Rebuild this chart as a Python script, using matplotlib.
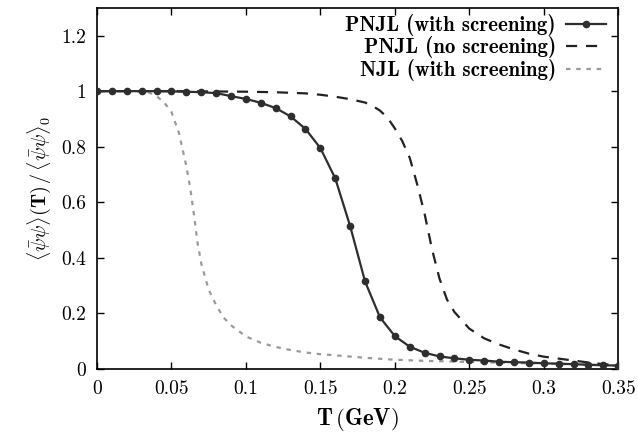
import numpy as np
import matplotlib
matplotlib.use("Agg")
import matplotlib.pyplot as plt

plt.rcParams['font.family'] = 'serif'
plt.rcParams['font.serif'] = ['cmr10']
plt.rcParams['mathtext.fontset'] = 'cm'
plt.rcParams['axes.unicode_minus'] = False

# PNJL con screening (puntos cada 0.01)
t_pnjl = np.round(np.arange(0, 0.351, 0.01), 3)
y_pnjl = [1.0, 1.0, 1.0, 1.0, 1.0, 0.999, 0.998, 0.996, 0.993, 0.982,
          0.972, 0.958, 0.939, 0.909, 0.864, 0.795, 0.686, 0.514, 0.315, 0.186,
          0.118, 0.080, 0.058, 0.045, 0.038, 0.033, 0.030, 0.026, 0.024, 0.023,
          0.020, 0.019, 0.017, 0.015, 0.013, 0.012]

# PNJL sin screening
t_nos = [0.0, 0.05, 0.10, 0.12, 0.14, 0.15, 0.16, 0.17, 0.18, 0.185, 0.19, 0.195,
         0.20, 0.205, 0.21, 0.215, 0.22, 0.225, 0.23, 0.235, 0.24, 0.25,
         0.26, 0.27, 0.28, 0.29, 0.30, 0.31, 0.32, 0.33, 0.34, 0.35]
y_nos = [1.0, 1.0, 0.998, 0.996, 0.992, 0.987, 0.98, 0.971, 0.959, 0.947, 0.93, 0.905,
         0.866, 0.82, 0.76, 0.665, 0.558, 0.43, 0.325, 0.25, 0.205, 0.145,
         0.11, 0.088, 0.07, 0.055, 0.044, 0.037, 0.03, 0.023, 0.017, 0.014]

# NJL con screening
t_njl = [0.0, 0.02, 0.03, 0.035, 0.04, 0.045, 0.05, 0.055, 0.06, 0.0625,
         0.065, 0.0675, 0.07, 0.075, 0.08, 0.085, 0.09, 0.10, 0.11, 0.12,
         0.13, 0.14, 0.15, 0.16, 0.18, 0.20, 0.22, 0.25, 0.28, 0.30, 0.33, 0.35]
y_njl = [1.0, 1.0, 0.999, 0.995, 0.982, 0.96, 0.925, 0.85, 0.73, 0.655,
         0.56, 0.455, 0.38, 0.285, 0.23, 0.185, 0.157, 0.117, 0.094, 0.079,
         0.068, 0.059, 0.053, 0.049, 0.04, 0.033, 0.029, 0.025, 0.021, 0.019, 0.015, 0.012]

xticks = [0, 0.05, 0.1, 0.15, 0.2, 0.25, 0.3, 0.35]
xticklabels = ['0', '0.05', '0.1', '0.15', '0.2', '0.25', '0.3', '0.35']
yticks = [0, 0.2, 0.4, 0.6, 0.8, 1.0, 1.2]
yticklabels = ['0', '0.2', '0.4', '0.6', '0.8', '1', '1.2']

fig = plt.figure(figsize=(6.38, 4.34), dpi=100)
ax = fig.add_axes([0.152, 0.150, 0.817, 0.832])

ax.plot(t_pnjl, y_pnjl, '-o', color='#2e2e2e', lw=1.6, ms=4.5,
        label='PNJL (with screening)', zorder=3)
ax.plot(t_nos, y_nos, color='#222222', lw=1.6, dashes=(5, 4),
        label='PNJL (no screening)', zorder=2)
ax.plot(t_njl, y_njl, color='#9a9a9a', lw=1.6, dashes=(2, 2.6),
        label='NJL (with screening)', zorder=1)

ax.set_xlim(0, 0.35)
ax.set_ylim(0, 1.3)
ax.set_xticks(xticks)
ax.set_xticklabels(xticklabels)
ax.set_yticks(yticks)
ax.set_yticklabels(yticklabels)
ax.tick_params(direction='in', top=True, right=True, length=5, width=1,
               labelsize=14, pad=8)
for s in ax.spines.values():
    s.set_linewidth(1.2)

ax.set_xlabel(r'$\mathbf{T\,(GeV)}$', fontsize=16.5, labelpad=6)
ax.set_ylabel(r'$\langle\bar{\psi}\psi\rangle(\mathbf{T})\,/\,\langle\bar{\psi}\psi\rangle_0$',
              fontsize=14.5, labelpad=6)

leg = ax.legend(loc='upper right', bbox_to_anchor=(0.992, 1.006), frameon=False,
                markerfirst=False, prop={'family': 'cmb10', 'size': 15},
                handlelength=1.9, labelspacing=0.02, borderaxespad=0.0,
                handletextpad=0.5)

fig.savefig('out.png', dpi=100)
